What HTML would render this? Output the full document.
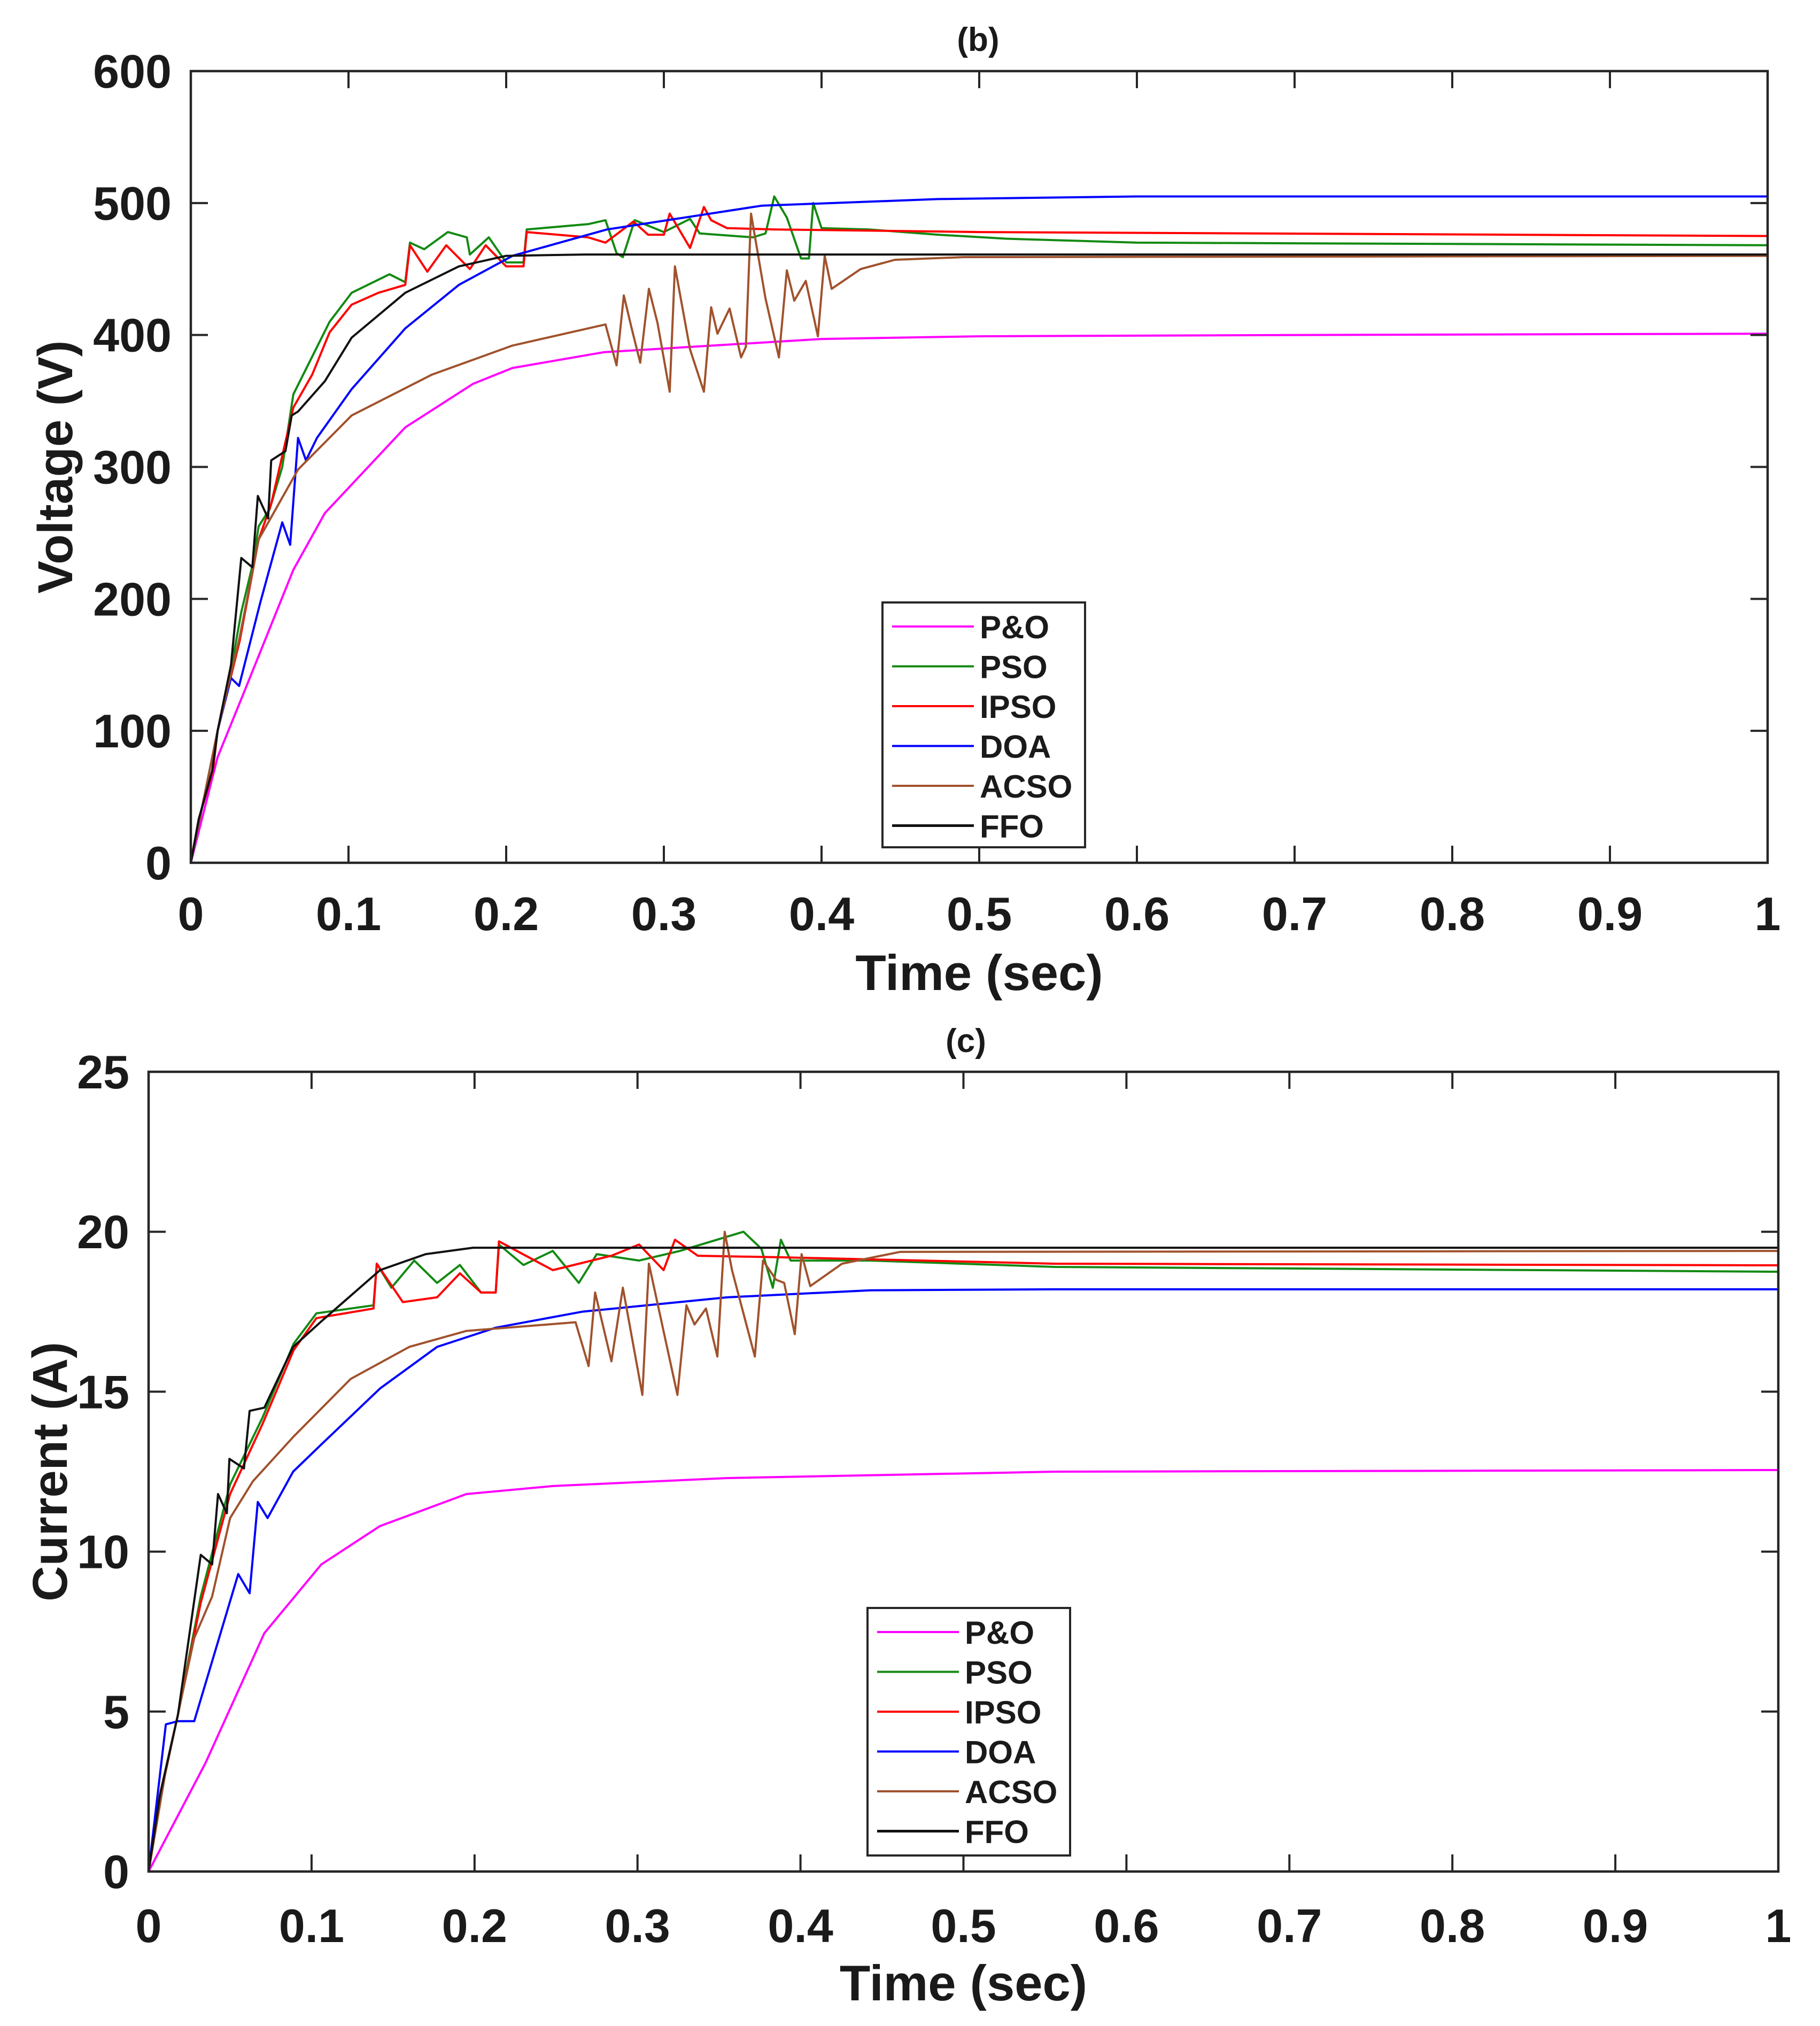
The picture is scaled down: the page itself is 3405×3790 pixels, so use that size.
<!DOCTYPE html>
<html><head><meta charset="utf-8"><style>
html,body{margin:0;padding:0;background:#fff;}
svg{display:block;}
text{font-family:"Liberation Sans",Arial,sans-serif;font-weight:bold;fill:#1a1a1a;}
</style></head><body>
<svg id="chart" width="3405" height="3790" viewBox="0 0 3405 3790" xmlns="http://www.w3.org/2000/svg">
<rect width="3405" height="3790" fill="#fff"/>
<g id="plotB"></g>
<g id="plotC"></g>
</svg>
<script>
const xTicks=[0,0.1,0.2,0.3,0.4,0.5,0.6,0.7,0.8,0.9,1];
const xTickLabels=["0","0.1","0.2","0.3","0.4","0.5","0.6","0.7","0.8","0.9","1"];
const seriesNames=["P&O","PSO","IPSO","DOA","ACSO","FFO"];
const seriesColors=["#ff00ff","#138a13","#ff0000","#0000ff","#a0522d","#111111"];
const vTicks=[0,100,200,300,400,500,600];
const iTicks=[0,5,10,15,20,25];

// ---- Voltage (b) ----
const vT_PO=[0,0.017,0.034,0.065,0.085,0.136,0.179,0.204,0.262,0.4,0.5,0.7,1];
const vV_PO=[0,80,130,222,265,330,363,375,387,397,399,400,401];
const vT_PSO=[0,0.005,0.014,0.017,0.026,0.032,0.039,0.043,0.05,0.058,0.065,0.088,0.102,0.126,0.136,0.139,0.148,0.163,0.175,0.177,0.189,0.2,0.211,0.213,0.252,0.263,0.27,0.274,0.2815,0.3,0.3166,0.3227,0.3565,0.3645,0.37,0.378,0.387,0.392,0.3947,0.4,0.43,0.474,0.517,0.6,1];
const vV_PSO=[0,33,70,100,150,190,225,255,268,300,355,410,432,446,440,470,465,478,474,461,474,455,455,480,484,487,462,459,487,478,488,477,474,477,505,489,458,458,500,481,480,476,473,470,468];
const vT_IPSO=[0,0.005,0.014,0.017,0.031,0.043,0.051,0.065,0.077,0.088,0.102,0.119,0.136,0.139,0.15,0.162,0.177,0.187,0.2,0.211,0.213,0.252,0.263,0.2807,0.29,0.3,0.3037,0.3166,0.3254,0.33,0.34,0.37,0.5,1];
const vV_IPSO=[0,33,70,100,168,245,272,345,370,402,423,432,438,468,448,468,450,468,452,452,478,474,470,486,476,476,492,466,497,487,481,480,478,475];
const vT_DOA=[0,0.017,0.0255,0.0306,0.044,0.058,0.063,0.068,0.073,0.08,0.102,0.136,0.17,0.204,0.264,0.362,0.474,0.6,1];
const vV_DOA=[0,100,140,134,197,258,241,322,305,322,359,405,438,460,480,498,503,505,505];
const vT_ACSO=[0,0.017,0.031,0.043,0.068,0.102,0.153,0.204,0.263,0.27,0.2746,0.28,0.285,0.2905,0.296,0.3037,0.307,0.3166,0.3254,0.33,0.334,0.3417,0.349,0.352,0.3553,0.3644,0.373,0.378,0.3827,0.39,0.3977,0.402,0.4064,0.4248,0.4465,0.49,1];
const vV_ACSO=[0,100,171,245,298,339,370,392,408,377,430,403,379,435,409,357,452,389,357,421,401,420,383,391,492,428,383,449,426,441,399,460,435,450,457,459,460];
const vT_FFO=[0,0.005,0.0136,0.017,0.0255,0.032,0.039,0.0425,0.049,0.051,0.06,0.064,0.068,0.085,0.102,0.136,0.17,0.2,0.25,1];
const vV_FFO=[0,33,70,100,150,231,224,278,261,305,312,339,342,365,398,432,452,460,461,461];

// ---- Current (c) ----
const iT_PO=[0,0.035,0.071,0.106,0.142,0.195,0.248,0.355,0.556,1];
const iV_PO=[0,3.4,7.45,9.6,10.8,11.8,12.05,12.3,12.5,12.55];
const iT_PSO=[0,0.007,0.018,0.032,0.05,0.07,0.089,0.103,0.138,0.14,0.149,0.163,0.177,0.191,0.204,0.213,0.215,0.23,0.248,0.264,0.275,0.301,0.326,0.365,0.376,0.383,0.388,0.394,0.443,0.556,1];
const iV_PSO=[0,2.4,4.9,8.6,12.1,14.2,16.5,17.45,17.7,19.0,18.25,19.1,18.4,18.96,18.1,18.1,19.6,18.96,19.4,18.4,19.3,19.1,19.4,20.0,19.47,18.25,19.75,19.1,19.1,18.9,18.75];
const iT_IPSO=[0,0.007,0.018,0.032,0.05,0.07,0.089,0.103,0.138,0.14,0.156,0.177,0.191,0.204,0.213,0.215,0.248,0.284,0.301,0.316,0.323,0.337,0.39,0.556,1];
const iV_IPSO=[0,2.4,4.9,8.4,11.8,14.0,16.3,17.3,17.6,19.0,17.8,17.95,18.7,18.1,18.1,19.7,18.8,19.25,19.6,18.8,19.75,19.25,19.2,19.0,18.95];
const iT_DOA=[0,0.0106,0.018,0.028,0.055,0.062,0.067,0.073,0.0887,0.106,0.142,0.177,0.213,0.266,0.355,0.443,0.556,1];
const iV_DOA=[0,4.6,4.7,4.7,9.3,8.7,11.55,11.05,12.5,13.35,15.1,16.4,17.0,17.5,17.95,18.17,18.2,18.2];
const iT_ACSO=[0,0.01,0.028,0.039,0.05,0.064,0.089,0.124,0.16,0.195,0.262,0.27,0.274,0.284,0.291,0.303,0.307,0.3245,0.33,0.335,0.342,0.349,0.3535,0.358,0.372,0.377,0.385,0.39,0.3965,0.4007,0.406,0.4255,0.461,1];
const iV_ACSO=[0,3.0,7.3,8.6,11.05,12.2,13.6,15.4,16.4,16.9,17.17,15.8,18.1,15.95,18.25,14.9,19.0,14.9,17.7,17.1,17.6,16.1,20.0,18.8,16.1,19.1,18.5,18.4,16.8,19.3,18.3,19.0,19.37,19.4];
const iT_FFO=[0,0.007,0.018,0.032,0.039,0.0426,0.048,0.0496,0.0585,0.062,0.071,0.0887,0.106,0.142,0.17,0.199,0.25,1];
const iV_FFO=[0,2.4,4.9,9.9,9.6,11.8,11.2,12.9,12.6,14.4,14.5,16.4,17.2,18.8,19.3,19.5,19.5,19.5];

const NS="http://www.w3.org/2000/svg";
function mk(tag,attrs,parent){const e=document.createElementNS(NS,tag);for(const k in attrs)e.setAttribute(k,attrs[k]);parent.appendChild(e);return e;}

function drawPlot(g,cfg){
  const L=cfg.L,R=cfg.R,T=cfg.T,B=cfg.B;
  const xs=t=>L+(R-L)*t;
  const ys=v=>B-(B-T)*(v-cfg.ymin)/(cfg.ymax-cfg.ymin);
  const sg=mk('g',{},g);
  
  
  cfg.series.forEach((s,k)=>{
    let d='';
    s.t.forEach((t,i)=>{d+=(i?'L':'M')+xs(t).toFixed(1)+' '+ys(s.v[i]).toFixed(1);});
    const p=mk('path',{d:d,fill:'none',stroke:seriesColors[k],'stroke-width':4,'stroke-linejoin':'round'},sg);
    
    
  });
  const box=mk('rect',{x:L,y:T,width:R-L,height:B-T,fill:'none',stroke:'#262626','stroke-width':4.5},g);
  
  
  const tl=32;
  xTicks.forEach((t,i)=>{
    const x=xs(t);
    mk('line',{x1:x,y1:B,x2:x,y2:B-tl,stroke:'#262626','stroke-width':4},g);
    mk('line',{x1:x,y1:T,x2:x,y2:T+tl,stroke:'#262626','stroke-width':4},g);
    const tx=mk('text',{x:x,y:B+cfg.xLabOff,'font-size':88,'text-anchor':'middle'},g);
    tx.textContent=xTickLabels[i];
    
    
  });
  cfg.yticks.forEach(v=>{
    const y=ys(v);
    mk('line',{x1:L,y1:y,x2:L+tl,y2:y,stroke:'#262626','stroke-width':4},g);
    mk('line',{x1:R,y1:y,x2:R-tl,y2:y,stroke:'#262626','stroke-width':4},g);
    const tx=mk('text',{x:cfg.ylabX,y:y+31,'font-size':88,'text-anchor':'end'},g);
    tx.textContent=String(v);
    
    
  });
  const xt=mk('text',{x:(L+R)/2,y:cfg.xTitleY,'font-size':94,'text-anchor':'middle'},g);
  xt.textContent='Time (sec)';
  
  
  const cy=(T+B)/2;
  const yt=mk('text',{x:cfg.yTitleX,y:cy,'font-size':92,'text-anchor':'middle',transform:'rotate(-90 '+cfg.yTitleX+' '+cy+')'},g);
  yt.textContent=cfg.ytitle;
  
  
  const tt=mk('text',{x:cfg.titleX,y:cfg.titleY,'font-size':62,'text-anchor':'middle'},g);
  tt.textContent=cfg.title;
  
  
  const lg=mk('g',{},g);
  
  
  const lb=mk('rect',{x:cfg.legX,y:cfg.legY,width:379,height:cfg.legH,fill:'#fff',stroke:'#262626','stroke-width':4},lg);
  
  
  seriesNames.forEach((n,k)=>{
    const ry=cfg.legY+45+k*74.5;
    const ln=mk('line',{x1:cfg.legX+18,y1:ry,x2:cfg.legX+171,y2:ry,stroke:seriesColors[k],'stroke-width':k==5?5:4},lg);
    
    
    const te=mk('text',{x:cfg.legX+182,y:ry+22,'font-size':60},lg);
    te.textContent=n;
    
    
  });
}

drawPlot(document.getElementById('plotB'),{L:357,R:3307,T:133,B:1614,ymin:0,ymax:600,yticks:vTicks,ylabX:321,xLabOff:126,
  xTitleY:1852,yTitleX:135,ytitle:'Voltage (V)',title:'(b)',titleX:1830,titleY:95,legX:1651,legY:1127,legH:458,
  series:[{t:vT_PO,v:vV_PO},{t:vT_PSO,v:vV_PSO},{t:vT_IPSO,v:vV_IPSO},{t:vT_DOA,v:vV_DOA},{t:vT_ACSO,v:vV_ACSO},{t:vT_FFO,v:vV_FFO}]});
drawPlot(document.getElementById('plotC'),{L:278,R:3327,T:2005,B:3501,ymin:0,ymax:25,yticks:iTicks,ylabX:242,xLabOff:132,
  xTitleY:3742,yTitleX:125,ytitle:'Current (A)',title:'(c)',titleX:1807,titleY:1968,legX:1623,legY:3008,legH:463,
  series:[{t:iT_PO,v:iV_PO},{t:iT_PSO,v:iV_PSO},{t:iT_IPSO,v:iV_IPSO},{t:iT_DOA,v:iV_DOA},{t:iT_ACSO,v:iV_ACSO},{t:iT_FFO,v:iV_FFO}]});
</script>
</body></html>
